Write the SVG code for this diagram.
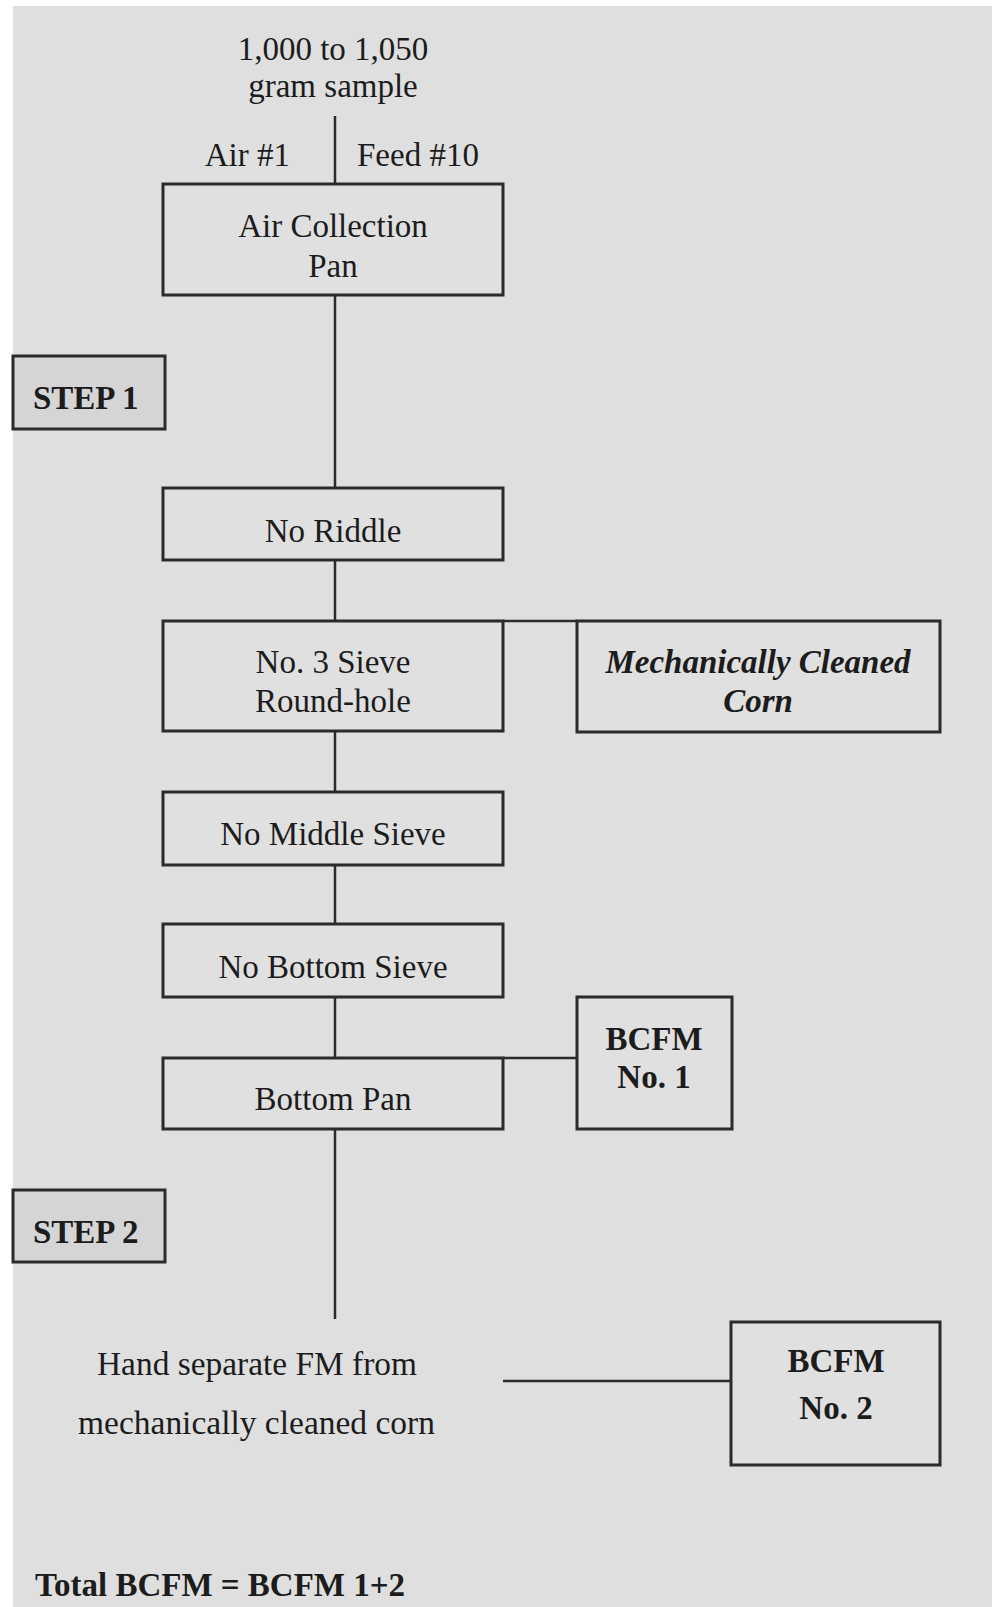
<svg xmlns="http://www.w3.org/2000/svg" width="1001" height="1607" viewBox="0 0 1001 1607">
<style>
.bg{fill:#dfdfdf}
.box{fill:#e0e0e0;stroke:#2b2b2b;stroke-width:3}
.step{fill:#d5d5d5;stroke:#2b2b2b;stroke-width:3}
.ln{stroke:#2b2b2b;stroke-width:2.5;fill:none}
text{font-family:"Liberation Serif","Times New Roman",serif;fill:#1c1c1c;font-size:33px}
.c{text-anchor:middle}
.b{font-weight:bold}
.bi{font-weight:bold;font-style:italic}
</style>
<rect x="0" y="0" width="1001" height="1607" fill="#ffffff"/>
<rect class="bg" x="13" y="6" width="979" height="1601"/>
<g id="connectors">
<line class="ln" x1="335" y1="116" x2="335" y2="184"/>
<line class="ln" x1="335" y1="295" x2="335" y2="488"/>
<line class="ln" x1="335" y1="560" x2="335" y2="621"/>
<line class="ln" x1="503" y1="621" x2="577" y2="621"/>
<line class="ln" x1="335" y1="731" x2="335" y2="792"/>
<line class="ln" x1="335" y1="865" x2="335" y2="924"/>
<line class="ln" x1="335" y1="997" x2="335" y2="1058"/>
<line class="ln" x1="503" y1="1058" x2="577" y2="1058"/>
<line class="ln" x1="335" y1="1129" x2="335" y2="1319"/>
<line class="ln" x1="503" y1="1381" x2="731" y2="1381"/>
</g>
<g id="sample">
<text class="c" x="333" y="60">1,000 to 1,050</text>
<text class="c" x="333" y="97">gram sample</text>
</g>
<g id="labels-top">
<text x="290" y="166" text-anchor="end">Air #1</text>
<text x="357" y="166">Feed #10</text>
</g>
<g id="air-pan">
<rect class="box" x="163" y="184" width="340" height="111"/>
<text class="c" x="333" y="237" font-size="32">Air Collection</text>
<text class="c" x="333" y="277" font-size="32">Pan</text>
</g>
<g id="step1">
<rect class="step" x="13" y="356" width="152" height="73"/>
<text class="b" x="33" y="409">STEP 1</text>
</g>
<g id="no-riddle">
<rect class="box" x="163" y="488" width="340" height="72"/>
<text class="c" x="333" y="542">No Riddle</text>
</g>
<g id="no3-sieve">
<rect class="box" x="163" y="621" width="340" height="110"/>
<text class="c" x="333" y="673">No. 3 Sieve</text>
<text class="c" x="333" y="712">Round-hole</text>
</g>
<g id="mech-corn">
<rect class="box" x="577" y="621" width="363" height="111"/>
<text class="c bi" x="758" y="673">Mechanically Cleaned</text>
<text class="c bi" x="758" y="712">Corn</text>
</g>
<g id="no-middle">
<rect class="box" x="163" y="792" width="340" height="73"/>
<text class="c" x="333" y="845">No Middle Sieve</text>
</g>
<g id="no-bottom">
<rect class="box" x="163" y="924" width="340" height="73"/>
<text class="c" x="333" y="978">No Bottom Sieve</text>
</g>
<g id="bottom-pan">
<rect class="box" x="163" y="1058" width="340" height="71"/>
<text class="c" x="333" y="1110">Bottom Pan</text>
</g>
<g id="bcfm1">
<rect class="box" x="577" y="997" width="155" height="132"/>
<text class="c b" x="654" y="1050" font-size="32">BCFM</text>
<text class="c b" x="654" y="1088" font-size="32">No. 1</text>
</g>
<g id="step2">
<rect class="step" x="13" y="1190" width="152" height="72"/>
<text class="b" x="33" y="1243">STEP 2</text>
</g>
<g id="hand-sep">
<text x="97" y="1375" font-size="29" textLength="320" lengthAdjust="spacingAndGlyphs">Hand separate FM from</text>
<text x="78" y="1434" font-size="29" textLength="357" lengthAdjust="spacingAndGlyphs">mechanically cleaned corn</text>
</g>
<g id="bcfm2">
<rect class="box" x="731" y="1322" width="209" height="143"/>
<text class="c b" x="836" y="1372" font-size="29">BCFM</text>
<text class="c b" x="836" y="1419" font-size="31">No. 2</text>
</g>
<g id="total">
<text class="b" x="35" y="1596" font-size="34">Total BCFM = BCFM 1+2</text>
</g>
</svg>
